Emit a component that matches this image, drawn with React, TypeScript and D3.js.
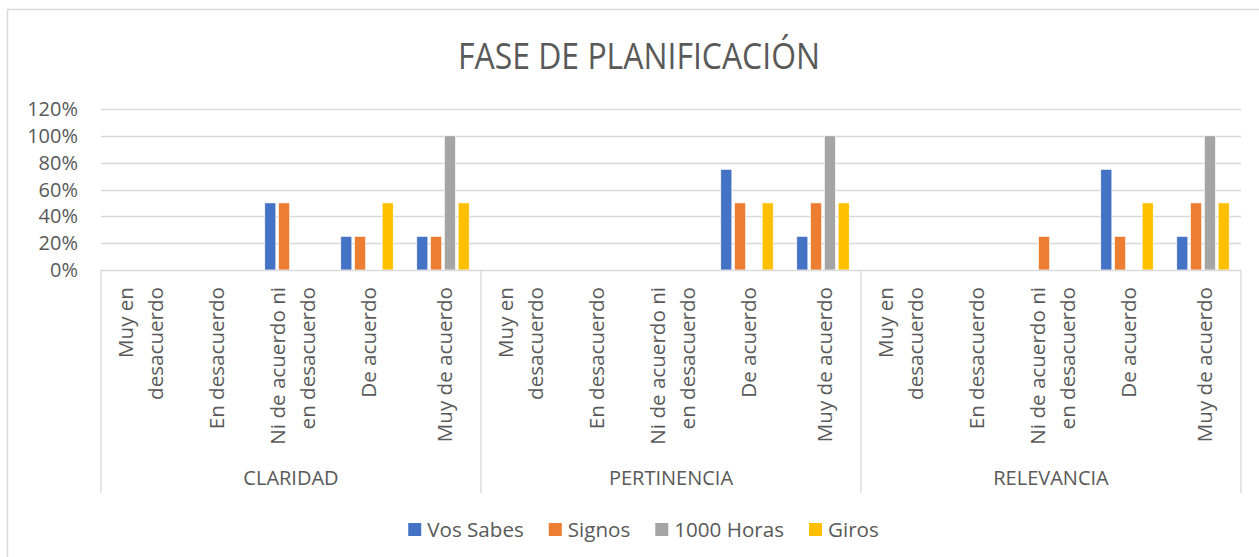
import React, { useEffect, useRef } from "react";
import * as d3 from "d3";

const groups = ["CLARIDAD", "PERTINENCIA", "RELEVANCIA"];
const categories = [
  ["Muy en", "desacuerdo"],
  ["En desacuerdo"],
  ["Ni de acuerdo ni", "en desacuerdo"],
  ["De acuerdo"],
  ["Muy de acuerdo"],
];
const seriesNames = ["Vos Sabes", "Signos", "1000 Horas", "Giros"];
const seriesColors = ["#4472C4", "#ED7D31", "#A5A5A5", "#FFC000"];
// values per group, per category: [Vos Sabes, Signos, 1000 Horas, Giros]
const claridad = [
  [0, 0, 0, 0],
  [0, 0, 0, 0],
  [0.5, 0.5, 0, 0],
  [0.25, 0.25, 0, 0.5],
  [0.25, 0.25, 1, 0.5],
];
const pertinencia = [
  [0, 0, 0, 0],
  [0, 0, 0, 0],
  [0, 0, 0, 0],
  [0.75, 0.5, 0, 0.5],
  [0.25, 0.5, 1, 0.5],
];
const relevancia = [
  [0, 0, 0, 0],
  [0, 0, 0, 0],
  [0, 0.25, 0, 0],
  [0.75, 0.25, 0, 0.5],
  [0.25, 0.5, 1, 0.5],
];
const groupValues = [claridad, pertinencia, relevancia];
const yTicks = [0, 0.2, 0.4, 0.6, 0.8, 1, 1.2];

const W = 1259;
const H = 557;
const FONT = "'Open Sans', sans-serif";
const TXT = "#595959";
const GRID = "#D9D9D9";

export default function App() {
  const ref = useRef<SVGSVGElement>(null);
  useEffect(() => {
    const svg = d3.select(ref.current);
    svg.selectAll("*").remove();

    const left = 101, right = 1241, top = 109, bottom = 270;

    // chart border
    svg.append("rect").attr("x", 7.5).attr("y", 9.5).attr("width", W + 20).attr("height", H + 20)
      .attr("fill", "#fff").attr("stroke", GRID).attr("stroke-width", 1.5);

    svg.append("text").text("FASE DE PLANIFICACIÓN")
      .attr("x", 639).attr("y", 69).attr("text-anchor", "middle")
      .attr("font-family", FONT).attr("font-size", 36).attr("fill", TXT)
      .attr("textLength", 362).attr("lengthAdjust", "spacingAndGlyphs");

    const y = d3.scaleLinear().domain([0, 1.2]).range([bottom, top]);
    const xg = d3.scaleBand<string>().domain(groups).range([left, right]);
    const xc = d3.scaleBand<number>().domain(d3.range(categories.length)).range([0, xg.bandwidth()]);
    const half = 26.2;
    const xs = d3.scaleBand<number>().domain(d3.range(seriesNames.length))
      .range([-half, half]).paddingInner(0.2).paddingOuter(0);

    // gridlines
    svg.append("g").selectAll("line").data(yTicks.slice(1)).join("line")
      .attr("x1", left).attr("x2", right)
      .attr("y1", (d) => Math.round(y(d)) + 0.5).attr("y2", (d) => Math.round(y(d)) + 0.5)
      .attr("stroke", GRID).attr("stroke-width", 1.3);

    // y labels
    svg.append("g").selectAll("text").data(yTicks).join("text")
      .text((d) => `${Math.round(d * 100)}%`)
      .attr("x", 78).attr("y", (d) => y(d) + 7).attr("text-anchor", "end")
      .attr("font-family", FONT).attr("font-size", 20).attr("fill", TXT);

    // bars
    groups.forEach((g, gi) => {
      const gx = xg(g)!;
      categories.forEach((_, ci) => {
        const cc = gx + xc(ci)! + xc.bandwidth() / 2;
        groupValues[gi][ci].forEach((v, si) => {
          if (v <= 0) return;
          svg.append("rect")
            .attr("x", cc + xs(si)!).attr("width", xs.bandwidth())
            .attr("y", y(v)).attr("height", y(0) - y(v))
            .attr("fill", seriesColors[si]).attr("stroke", "#fff").attr("stroke-width", 0.6);
        });
      });
    });

    // axis line
    svg.append("line").attr("x1", left).attr("x2", right)
      .attr("y1", bottom + 0.5).attr("y2", bottom + 0.5).attr("stroke", GRID).attr("stroke-width", 1.3);

    // group separators
    const seps = [left, ...groups.map((g) => xg(g)! + xg.bandwidth())];
    svg.append("g").selectAll("line").data(seps).join("line")
      .attr("x1", (d) => d).attr("x2", (d) => d).attr("y1", bottom).attr("y2", 493)
      .attr("stroke", GRID).attr("stroke-width", 1.3);

    // category labels
    groups.forEach((g) => {
      const gx = xg(g)!;
      categories.forEach((lines, ci) => {
        const cc = gx + xc(ci)! + xc.bandwidth() / 2;
        const base = lines.length > 1 ? cc - 6 : cc + 9;
        const t = svg.append("text")
          .attr("transform", `translate(${base},287) rotate(-90)`)
          .attr("text-anchor", "end").attr("font-family", FONT).attr("font-size", 20.6).attr("fill", TXT);
        lines.forEach((ln, li) => {
          t.append("tspan").attr("x", 0).attr("y", li * 30).text(ln);
        });
      });
      svg.append("text").text(g).attr("x", gx + xg.bandwidth() / 2).attr("y", 485)
        .attr("text-anchor", "middle").attr("font-family", FONT).attr("font-size", 20).attr("fill", TXT);
    });

    // legend
    const lg = svg.append("g");
    let cx = 0;
    seriesNames.forEach((name, i) => {
      const item = lg.append("g").attr("transform", `translate(${cx},0)`);
      item.append("rect").attr("x", 0).attr("y", 523).attr("width", 13).attr("height", 13).attr("fill", seriesColors[i]);
      const tx = item.append("text").text(name).attr("x", 19).attr("y", 537)
        .attr("font-family", FONT).attr("font-size", 20.6).attr("fill", TXT);
      const w = (tx.node() as SVGTextElement).getComputedTextLength();
      cx += 19 + w + 25;
    });
    const total = cx - 25;
    lg.attr("transform", `translate(${643.5 - total / 2},0)`);
  }, []);
  return (
    <svg ref={ref} width={W} height={H}
      style={{ position: "absolute", left: 0, top: 0, display: "block", background: "#fff" }} />
  );
}
